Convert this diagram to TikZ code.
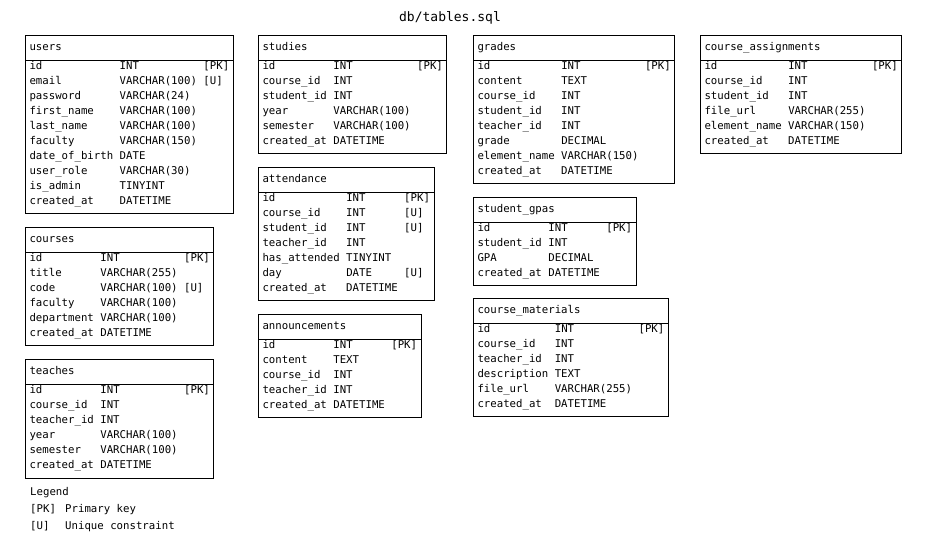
\documentclass[tikz,border=0pt]{standalone}
\usepackage{fontspec}
\setmonofont{DejaVu Sans Mono}
\usepackage{array}
\usepackage{tikz}
\usetikzlibrary{shapes.multipart,positioning}

\newcommand{\dbfont}{\ttfamily\fontsize{10.7}{15}\selectfont}
\newcommand{\hdstrut}{\rule[-9.5pt]{0pt}{24pt}}
\newcommand{\rowstrut}{\rule[-6.7pt]{0pt}{15pt}}
\newcommand{\colgap}{\hspace{6.45pt}}
\newcommand{\lastrow}{\\[8.7pt]}
\newcolumntype{N}{@{}>{\rowstrut}l@{\colgap}l@{\colgap}l@{}}
\renewcommand{\arraystretch}{0}

\begin{document}
\begin{tikzpicture}[x=1pt, y=-1pt,
  dbtable/.style={draw, line width=1pt, rectangle split, rectangle split parts=2,
    rectangle split part align={left,left}, anchor=north west,
    inner xsep=4pt, inner ysep=0pt, font=\dbfont},
  legend/.style={anchor=base west, inner sep=0pt, font=\dbfont}]
  \useasboundingbox (0,0) rectangle (932,534);

  \node[font=\ttfamily\fontsize{13}{15}\selectfont] (title) at (450,18) {db/tables.sql};

  % first column
  \node[dbtable] (users) at (25,35.5) {users\hdstrut
    \nodepart{second}\begin{tabular}{N}
    id & INT & [PK]\\
    email & VARCHAR(100) & [U]\\
    password & VARCHAR(24) & \\
    first\_name & VARCHAR(100) & \\
    last\_name & VARCHAR(100) & \\
    faculty & VARCHAR(150) & \\
    date\_of\_birth & DATE & \\
    user\_role & VARCHAR(30) & \\
    is\_admin & TINYINT & \\
    created\_at & DATETIME & \lastrow
    \end{tabular}};

  \node[dbtable] (courses) at (25,227.5) {courses\hdstrut
    \nodepart{second}\begin{tabular}{N}
    id & INT & [PK]\\
    title & VARCHAR(255) & \\
    code & VARCHAR(100) & [U]\\
    faculty & VARCHAR(100) & \\
    department & VARCHAR(100) & \\
    created\_at & DATETIME & \lastrow
    \end{tabular}};

  \node[dbtable] (teaches) at (25,359.5) {teaches\hdstrut
    \nodepart{second}\begin{tabular}{N}
    id & INT & [PK]\\
    course\_id & INT & \\
    teacher\_id & INT & \\
    year & VARCHAR(100) & \\
    semester & VARCHAR(100) & \\
    created\_at & DATETIME & \lastrow
    \end{tabular}};

  % second column
  \node[dbtable] (studies) at (258,35.5) {studies\hdstrut
    \nodepart{second}\begin{tabular}{N}
    id & INT & [PK]\\
    course\_id & INT & \\
    student\_id & INT & \\
    year & VARCHAR(100) & \\
    semester & VARCHAR(100) & \\
    created\_at & DATETIME & \lastrow
    \end{tabular}};

  \node[dbtable] (attendance) at (258,167.5) {attendance\hdstrut
    \nodepart{second}\begin{tabular}{N}
    id & INT & [PK]\\
    course\_id & INT & [U]\\
    student\_id & INT & [U]\\
    teacher\_id & INT & \\
    has\_attended & TINYINT\hspace{3pt} & \\
    day & DATE & [U]\\
    created\_at & DATETIME & \lastrow
    \end{tabular}};

  \node[dbtable] (announcements) at (258,314.5) {announcements\hdstrut
    \nodepart{second}\begin{tabular}{N}
    id & INT & [PK]\\
    content & TEXT & \\
    course\_id & INT & \\
    teacher\_id & INT & \\
    created\_at & DATETIME & \lastrow
    \end{tabular}};

  % third column
  \node[dbtable] (grades) at (473,35.5) {grades\hdstrut
    \nodepart{second}\begin{tabular}{N}
    id & INT & [PK]\\
    content & TEXT & \\
    course\_id & INT & \\
    student\_id & INT & \\
    teacher\_id & INT & \\
    grade & DECIMAL & \\
    element\_name & VARCHAR(150) & \\
    created\_at & DATETIME & \lastrow
    \end{tabular}};

  \node[dbtable] (gpas) at (473,197.5) {student\_gpas\hdstrut
    \nodepart{second}\begin{tabular}{N}
    id & INT & [PK]\\
    student\_id & INT & \\
    GPA & DECIMAL & \\
    created\_at & DATETIME & \lastrow
    \end{tabular}};

  \node[dbtable] (materials) at (473,298.5) {course\_materials\hdstrut
    \nodepart{second}\begin{tabular}{N}
    id & INT & [PK]\\
    course\_id & INT & \\
    teacher\_id & INT & \\
    description & TEXT & \\
    file\_url & VARCHAR(255) & \\
    created\_at & DATETIME & \lastrow
    \end{tabular}};

  % fourth column
  \node[dbtable] (assignments) at (700,35.5) {course\_assignments\hdstrut
    \nodepart{second}\begin{tabular}{N}
    id & INT & [PK]\\
    course\_id & INT & \\
    student\_id & INT & \\
    file\_url & VARCHAR(255) & \\
    element\_name & VARCHAR(150) & \\
    created\_at & DATETIME & \lastrow
    \end{tabular}};

  % legend
  \node[legend] (leg) at (30,495) {Legend};
  \node[legend] (legpk) at (30,512) {[PK]};
  \node[legend] (legpktext) at (65,512) {Primary key};
  \node[legend] (legu) at (30,529) {[U]};
  \node[legend] (legutext) at (65,529) {Unique constraint};
\end{tikzpicture}
\end{document}
